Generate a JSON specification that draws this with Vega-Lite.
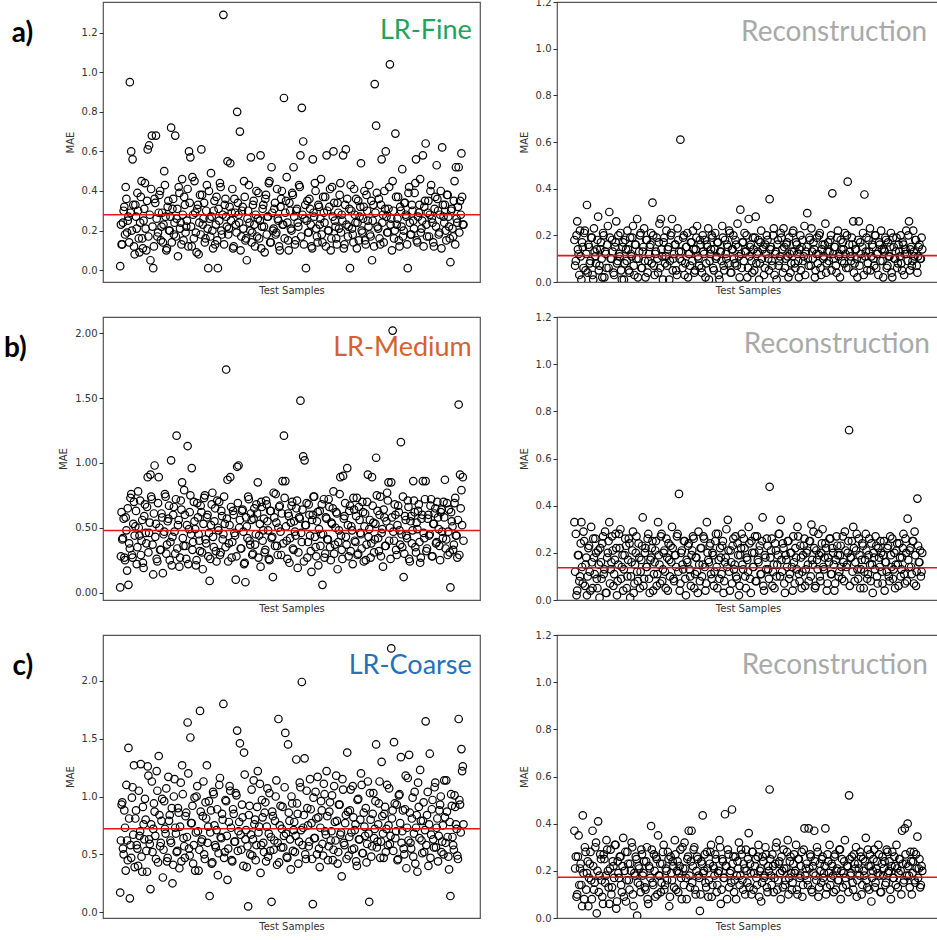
{
"$schema":"https://vega.github.io/schema/vega-lite/v6.json",
"padding":{"left":3,"top":-4,"right":0,"bottom":0},
"background":"white",
"data":{"values":[
{"i":0,"a":0.02,"b":0.18,"c":0.04,"d":0.33,"e":0.17,"f":0.37},
{"i":2,"a":0.13,"b":0.09,"c":0.62,"d":0.28,"e":0.93,"f":0.26},
{"i":4,"a":0.24,"b":0.26,"c":0.42,"d":0.04,"e":0.55,"f":0.10},
{"i":6,"a":0.32,"b":0.12,"c":0.27,"d":0.19,"e":0.88,"f":0.35},
{"i":8,"a":0.42,"b":0.22,"c":0.58,"d":0.10,"e":0.36,"f":0.21},
{"i":10,"a":0.19,"b":0.01,"c":0.17,"d":0.33,"e":0.62,"f":0.14},
{"i":12,"a":0.27,"b":0.15,"c":0.06,"d":0.07,"e":1.42,"f":0.435},
{"i":14,"a":0.95,"b":0.21,"c":0.34,"d":0.25,"e":0.12,"f":0.08},
{"i":16,"a":0.60,"b":0.05,"c":0.76,"d":0.15,"e":0.47,"f":0.28},
{"i":18,"a":0.56,"b":0.33,"c":0.27,"d":0.02,"e":1.08,"f":0.19},
{"i":20,"a":0.12,"b":0.16,"c":0.70,"d":0.22,"e":1.27,"f":0.05},
{"i":22,"a":0.33,"b":0.08,"c":0.51,"d":0.12,"e":0.81,"f":0.23},
{"i":24,"a":0.21,"b":0.19,"c":0.22,"d":0.31,"e":0.58,"f":0.16},
{"i":26,"a":0.30,"b":0.03,"c":0.78,"d":0.05,"e":0.40,"f":0.37},
{"i":28,"a":0.09,"b":0.23,"c":0.44,"d":0.18,"e":0.66,"f":0.12},
{"i":30,"a":0.37,"b":0.11,"c":0.29,"d":0.26,"e":1.28,"f":0.30},
{"i":32,"a":0.16,"b":0.14,"c":0.56,"d":0.09,"e":0.35,"f":0.02},
{"i":34,"a":0.25,"b":0.28,"c":0.19,"d":0.21,"e":0.76,"f":0.41},
{"i":36,"a":0.44,"b":0.07,"c":0.68,"d":0.01,"e":0.98,"f":0.18},
{"i":38,"a":0.10,"b":0.17,"c":0.38,"d":0.16,"e":0.53,"f":0.25},
{"i":40,"a":0.61,"b":0.02,"c":0.89,"d":0.24,"e":1.26,"f":0.09},
{"i":42,"a":0.63,"b":0.20,"c":0.46,"d":0.11,"e":0.63,"f":0.27},
{"i":44,"a":0.05,"b":0.13,"c":0.91,"d":0.29,"e":0.20,"f":0.15},
{"i":46,"a":0.68,"b":0.06,"c":0.72,"d":0.03,"e":1.13,"f":0.33},
{"i":48,"a":0.01,"b":0.24,"c":0.14,"d":0.20,"e":0.72,"f":0.20},
{"i":50,"a":0.36,"b":0.30,"c":0.98,"d":0.33,"e":0.87,"f":0.06},
{"i":52,"a":0.68,"b":0.10,"c":0.53,"d":0.13,"e":0.46,"f":0.29},
{"i":54,"a":0.17,"b":0.18,"c":0.24,"d":0.27,"e":1.05,"f":0.13},
{"i":56,"a":0.29,"b":0.04,"c":0.89,"d":0.06,"e":1.35,"f":0.22},
{"i":58,"a":0.40,"b":0.15,"c":0.33,"d":0.17,"e":0.57,"f":0.31},
{"i":60,"a":0.22,"b":0.26,"c":0.61,"d":0.22,"e":0.79,"f":0.04},
{"i":62,"a":0.14,"b":0.09,"c":0.15,"d":0.08,"e":0.30,"f":0.24},
{"i":64,"a":0.50,"b":0.12,"c":0.47,"d":0.28,"e":0.96,"f":0.17},
{"i":66,"a":0.27,"b":0.21,"c":0.74,"d":0.30,"e":0.68,"f":0.26},
{"i":68,"a":0.11,"b":0.01,"c":0.37,"d":0.14,"e":0.44,"f":0.11},
{"i":70,"a":0.35,"b":0.17,"c":0.57,"d":0.04,"e":1.17,"f":0.34},
{"i":72,"a":0.20,"b":0.08,"c":0.25,"d":0.19,"e":0.84,"f":0.20},
{"i":74,"a":0.72,"b":0.14,"c":1.02,"d":0.23,"e":0.60,"f":0.07},
{"i":76,"a":0.31,"b":0.22,"c":0.43,"d":0.10,"e":0.25,"f":0.28},
{"i":78,"a":0.18,"b":0.05,"c":0.66,"d":0.26,"e":1.00,"f":0.16},
{"i":80,"a":0.68,"b":0.19,"c":0.30,"d":0.01,"e":0.73,"f":0.23},
{"i":82,"a":0.26,"b":0.11,"c":1.21,"d":0.16,"e":0.52,"f":0.32},
{"i":84,"a":0.07,"b":0.24,"c":0.52,"d":0.29,"e":0.90,"f":0.10},
{"i":86,"a":0.39,"b":0.03,"c":0.20,"d":0.07,"e":0.38,"f":0.19},
{"i":88,"a":0.24,"b":0.16,"c":0.71,"d":0.20,"e":1.12,"f":0.26},
{"i":90,"a":0.46,"b":0.27,"c":0.85,"d":0.12,"e":1.27,"f":0.01},
{"i":92,"a":0.15,"b":0.10,"c":0.36,"d":0.24,"e":0.64,"f":0.22},
{"i":94,"a":0.33,"b":0.20,"c":0.60,"d":0.05,"e":0.47,"f":0.14},
{"i":96,"a":0.22,"b":0.06,"c":0.26,"d":0.17,"e":0.86,"f":0.29},
{"i":98,"a":0.41,"b":0.13,"c":1.13,"d":0.35,"e":1.64,"f":0.18},
{"i":100,"a":0.60,"b":0.23,"c":0.49,"d":0.09,"e":0.55,"f":0.24},
{"i":102,"a":0.57,"b":0.02,"c":0.75,"d":0.22,"e":1.51,"f":0.12},
{"i":104,"a":0.12,"b":0.18,"c":0.96,"d":0.14,"e":0.77,"f":0.30},
{"i":106,"a":0.28,"b":0.09,"c":0.39,"d":0.28,"e":0.42,"f":0.06},
{"i":108,"a":0.45,"b":0.15,"c":0.55,"d":0.03,"e":0.99,"f":0.21},
{"i":110,"a":0.19,"b":0.21,"c":0.21,"d":0.18,"e":0.69,"f":0.39},
{"i":112,"a":0.31,"b":0.34,"c":0.69,"d":0.25,"e":1.09,"f":0.15},
{"i":114,"a":0.08,"b":0.07,"c":0.45,"d":0.11,"e":0.36,"f":0.27},
{"i":116,"a":0.38,"b":0.12,"c":0.32,"d":0.21,"e":1.74,"f":0.09},
{"i":118,"a":0.61,"b":0.19,"c":0.62,"d":0.06,"e":0.61,"f":0.25},
{"i":120,"a":0.23,"b":0.04,"c":0.18,"d":0.33,"e":0.83,"f":0.35},
{"i":122,"a":0.34,"b":0.25,"c":0.73,"d":0.15,"e":0.50,"f":0.18},
{"i":124,"a":0.16,"b":0.27,"c":0.41,"d":0.27,"e":0.95,"f":0.11},
{"i":126,"a":0.43,"b":0.11,"c":0.58,"d":0.08,"e":1.27,"f":0.23},
{"i":128,"a":0.01,"b":0.17,"c":0.28,"d":0.20,"e":0.74,"f":0.31},
{"i":130,"a":0.26,"b":0.08,"c":0.09,"d":0.12,"e":0.14,"f":0.14},
{"i":132,"a":0.49,"b":0.22,"c":0.52,"d":0.26,"e":0.88,"f":0.20},
{"i":134,"a":0.20,"b":0.14,"c":0.77,"d":0.04,"e":0.43,"f":0.28},
{"i":136,"a":0.30,"b":0.01,"c":0.35,"d":0.17,"e":1.02,"f":0.05},
{"i":138,"a":0.13,"b":0.20,"c":0.65,"d":0.23,"e":0.58,"f":0.26},
{"i":140,"a":0.37,"b":0.27,"c":0.24,"d":0.31,"e":0.71,"f":0.16},
{"i":142,"a":0.01,"b":0.10,"c":0.50,"d":0.09,"e":0.32,"f":0.22},
{"i":144,"a":0.25,"b":0.16,"c":0.70,"d":0.19,"e":1.10,"f":0.33},
{"i":146,"a":0.42,"b":0.05,"c":0.31,"d":0.14,"e":0.65,"f":0.12},
{"i":148,"a":0.18,"b":0.23,"c":0.59,"d":0.28,"e":0.85,"f":0.24},
{"i":150,"a":1.29,"b":0.13,"c":0.45,"d":0.45,"e":1.80,"f":0.19},
{"i":152,"a":0.33,"b":0.61,"c":0.53,"d":0.07,"e":0.52,"f":0.29},
{"i":154,"a":0.27,"b":0.09,"c":1.72,"d":0.21,"e":0.96,"f":0.08},
{"i":156,"a":0.55,"b":0.19,"c":0.87,"d":0.13,"e":0.28,"f":0.21},
{"i":158,"a":0.21,"b":0.03,"c":0.38,"d":0.25,"e":0.78,"f":0.32},
{"i":160,"a":0.54,"b":0.15,"c":0.89,"d":0.02,"e":1.05,"f":0.17},
{"i":162,"a":0.29,"b":0.21,"c":0.27,"d":0.16,"e":0.45,"f":0.25},
{"i":164,"a":0.11,"b":0.12,"c":0.63,"d":0.24,"e":0.89,"f":0.37},
{"i":166,"a":0.36,"b":0.07,"c":0.46,"d":0.10,"e":0.61,"f":0.13},
{"i":168,"a":0.23,"b":0.17,"c":0.10,"d":0.19,"e":1.03,"f":0.37},
{"i":170,"a":0.80,"b":0.22,"c":0.97,"d":0.27,"e":1.57,"f":0.22},
{"i":172,"a":0.28,"b":0.04,"c":0.98,"d":0.05,"e":0.70,"f":0.30},
{"i":174,"a":0.70,"b":0.14,"c":0.56,"d":0.18,"e":1.46,"f":0.10},
{"i":176,"a":0.17,"b":0.24,"c":0.34,"d":0.12,"e":0.54,"f":0.26},
{"i":178,"a":0.32,"b":0.10,"c":0.64,"d":0.29,"e":0.82,"f":0.18},
{"i":180,"a":0.45,"b":0.18,"c":0.22,"d":0.08,"e":1.38,"f":0.03},
{"i":182,"a":0.15,"b":0.06,"c":0.08,"d":0.22,"e":0.63,"f":0.24},
{"i":184,"a":0.05,"b":0.20,"c":0.51,"d":0.15,"e":0.39,"f":0.435},
{"i":186,"a":0.30,"b":0.12,"c":0.74,"d":0.26,"e":0.05,"f":0.20},
{"i":188,"a":0.24,"b":0.02,"c":0.40,"d":0.04,"e":0.92,"f":0.15},
{"i":190,"a":0.57,"b":0.16,"c":0.61,"d":0.33,"e":0.67,"f":0.28},
{"i":192,"a":0.19,"b":0.23,"c":0.29,"d":0.17,"e":0.49,"f":0.09},
{"i":194,"a":0.35,"b":0.09,"c":0.57,"d":0.23,"e":1.14,"f":0.23},
{"i":196,"a":0.12,"b":0.14,"c":0.37,"d":0.11,"e":0.80,"f":0.31},
{"i":198,"a":0.40,"b":0.19,"c":0.68,"d":0.20,"e":0.58,"f":0.14},
{"i":200,"a":0.26,"b":0.05,"c":0.85,"d":0.06,"e":1.22,"f":0.21},
{"i":202,"a":0.16,"b":0.21,"c":0.44,"d":0.25,"e":0.74,"f":0.27},
{"i":204,"a":0.58,"b":0.11,"c":0.20,"d":0.14,"e":0.34,"f":0.11},
{"i":206,"a":0.22,"b":0.17,"c":0.66,"d":0.28,"e":0.97,"f":0.19},
{"i":208,"a":0.33,"b":0.01,"c":0.48,"d":0.09,"e":0.60,"f":0.33},
{"i":210,"a":0.09,"b":0.13,"c":0.31,"d":0.18,"e":0.86,"f":0.06},
{"i":212,"a":0.38,"b":0.24,"c":0.71,"d":0.23,"e":0.44,"f":0.25},
{"i":214,"a":0.27,"b":0.07,"c":0.55,"d":0.03,"e":1.07,"f":0.17},
{"i":216,"a":0.44,"b":0.18,"c":0.26,"d":0.16,"e":0.68,"f":0.44},
{"i":218,"a":0.14,"b":0.10,"c":0.63,"d":0.30,"e":0.53,"f":0.22},
{"i":220,"a":0.52,"b":0.15,"c":0.42,"d":0.34,"e":0.09,"f":0.29},
{"i":222,"a":0.20,"b":0.22,"c":0.12,"d":0.12,"e":0.83,"f":0.13},
{"i":224,"a":0.31,"b":0.04,"c":0.58,"d":0.21,"e":0.62,"f":0.20},
{"i":226,"a":0.18,"b":0.14,"c":0.76,"d":0.07,"e":1.00,"f":0.46},
{"i":228,"a":0.41,"b":0.20,"c":0.36,"d":0.26,"e":0.41,"f":0.26},
{"i":230,"a":0.25,"b":0.08,"c":0.50,"d":0.15,"e":1.67,"f":0.16},
{"i":232,"a":0.10,"b":0.16,"c":0.67,"d":0.10,"e":0.75,"f":0.08},
{"i":234,"a":0.36,"b":0.25,"c":0.29,"d":0.24,"e":0.56,"f":0.24},
{"i":236,"a":0.23,"b":0.11,"c":0.86,"d":0.02,"e":0.91,"f":0.32},
{"i":238,"a":0.87,"b":0.31,"c":1.21,"d":0.19,"e":0.66,"f":0.18},
{"i":240,"a":0.29,"b":0.06,"c":0.86,"d":0.28,"e":1.55,"f":0.27},
{"i":242,"a":0.47,"b":0.17,"c":0.40,"d":0.13,"e":0.48,"f":0.12},
{"i":244,"a":0.15,"b":0.21,"c":0.61,"d":0.22,"e":1.45,"f":0.21},
{"i":246,"a":0.34,"b":0.13,"c":0.23,"d":0.05,"e":0.79,"f":0.29},
{"i":248,"a":0.21,"b":0.02,"c":0.54,"d":0.17,"e":0.37,"f":0.15},
{"i":250,"a":0.39,"b":0.27,"c":0.70,"d":0.31,"e":0.94,"f":0.36},
{"i":252,"a":0.52,"b":0.15,"c":0.33,"d":0.09,"e":0.71,"f":0.23},
{"i":254,"a":0.13,"b":0.09,"c":0.47,"d":0.25,"e":0.52,"f":0.10},
{"i":256,"a":0.30,"b":0.19,"c":0.65,"d":0.14,"e":1.32,"f":0.28},
{"i":258,"a":0.24,"b":0.05,"c":0.19,"d":0.20,"e":0.85,"f":0.19},
{"i":260,"a":0.43,"b":0.28,"c":0.58,"d":0.08,"e":0.61,"f":0.25},
{"i":262,"a":0.58,"b":0.12,"c":1.48,"d":0.27,"e":1.08,"f":0.14},
{"i":264,"a":0.82,"b":0.18,"c":0.39,"d":0.16,"e":1.99,"f":0.31},
{"i":266,"a":0.65,"b":0.08,"c":1.05,"d":0.23,"e":0.73,"f":0.20},
{"i":268,"a":0.26,"b":0.22,"c":1.02,"d":0.11,"e":1.33,"f":0.07},
{"i":270,"a":0.01,"b":0.14,"c":0.52,"d":0.35,"e":0.46,"f":0.26},
{"i":272,"a":0.35,"b":0.03,"c":0.27,"d":0.04,"e":0.90,"f":0.17},
{"i":274,"a":0.19,"b":0.16,"c":0.68,"d":0.18,"e":0.57,"f":0.30},
{"i":276,"a":0.31,"b":0.20,"c":0.44,"d":0.26,"e":1.15,"f":0.13},
{"i":278,"a":0.12,"b":0.10,"c":0.16,"d":0.13,"e":0.77,"f":0.22},
{"i":280,"a":0.56,"b":0.355,"c":0.60,"d":0.48,"e":0.07,"f":0.545},
{"i":282,"a":0.27,"b":0.15,"c":0.74,"d":0.21,"e":0.64,"f":0.18},
{"i":284,"a":0.40,"b":0.07,"c":0.35,"d":0.06,"e":1.04,"f":0.27},
{"i":286,"a":0.17,"b":0.23,"c":0.55,"d":0.15,"e":0.50,"f":0.11},
{"i":288,"a":0.33,"b":0.12,"c":0.21,"d":0.24,"e":0.82,"f":0.23},
{"i":290,"a":0.23,"b":0.01,"c":0.63,"d":0.10,"e":0.39,"f":0.32},
{"i":292,"a":0.46,"b":0.18,"c":0.45,"d":0.19,"e":0.96,"f":0.16},
{"i":294,"a":0.14,"b":0.09,"c":0.06,"d":0.28,"e":0.59,"f":0.24},
{"i":296,"a":0.29,"b":0.21,"c":0.72,"d":0.34,"e":1.11,"f":0.08},
{"i":298,"a":0.37,"b":0.14,"c":0.30,"d":0.12,"e":0.70,"f":0.20},
{"i":300,"a":0.58,"b":0.23,"c":0.57,"d":0.22,"e":1.22,"f":0.29},
{"i":302,"a":0.20,"b":0.06,"c":0.41,"d":0.03,"e":0.45,"f":0.14},
{"i":304,"a":0.32,"b":0.16,"c":0.66,"d":0.17,"e":0.87,"f":0.21},
{"i":306,"a":0.10,"b":0.11,"c":0.25,"d":0.25,"e":0.62,"f":0.33},
{"i":308,"a":0.42,"b":0.19,"c":0.53,"d":0.09,"e":1.01,"f":0.17},
{"i":310,"a":0.60,"b":0.04,"c":0.78,"d":0.20,"e":0.54,"f":0.26},
{"i":312,"a":0.25,"b":0.13,"c":0.37,"d":0.14,"e":0.78,"f":0.12},
{"i":314,"a":0.16,"b":0.22,"c":0.62,"d":0.27,"e":1.18,"f":0.23},
{"i":316,"a":0.34,"b":0.08,"c":0.18,"d":0.07,"e":0.42,"f":0.19},
{"i":318,"a":0.21,"b":0.17,"c":0.48,"d":0.18,"e":0.93,"f":0.31},
{"i":320,"a":0.44,"b":0.12,"c":0.89,"d":0.31,"e":0.67,"f":0.10},
{"i":322,"a":0.28,"b":0.02,"c":0.33,"d":0.11,"e":0.31,"f":0.25},
{"i":324,"a":0.58,"b":0.20,"c":0.90,"d":0.23,"e":1.06,"f":0.18},
{"i":326,"a":0.13,"b":0.15,"c":0.59,"d":0.05,"e":0.58,"f":0.28},
{"i":328,"a":0.61,"b":0.09,"c":0.43,"d":0.19,"e":0.84,"f":0.14},
{"i":330,"a":0.36,"b":0.24,"c":0.96,"d":0.26,"e":1.38,"f":0.38},
{"i":332,"a":0.22,"b":0.13,"c":0.28,"d":0.13,"e":0.49,"f":0.21},
{"i":334,"a":0.01,"b":0.295,"c":0.67,"d":0.21,"e":0.88,"f":0.16},
{"i":336,"a":0.30,"b":0.07,"c":0.51,"d":0.08,"e":0.69,"f":0.38},
{"i":338,"a":0.18,"b":0.18,"c":0.22,"d":0.25,"e":1.09,"f":0.27},
{"i":340,"a":0.41,"b":0.23,"c":0.64,"d":0.32,"e":0.55,"f":0.12},
{"i":342,"a":0.24,"b":0.10,"c":0.39,"d":0.15,"e":0.76,"f":0.22},
{"i":344,"a":0.11,"b":0.14,"c":0.73,"d":0.22,"e":0.40,"f":0.37},
{"i":346,"a":0.35,"b":0.05,"c":0.30,"d":0.06,"e":0.98,"f":0.18},
{"i":348,"a":0.27,"b":0.19,"c":0.56,"d":0.17,"e":0.63,"f":0.30},
{"i":350,"a":0.54,"b":0.12,"c":0.45,"d":0.28,"e":1.20,"f":0.09},
{"i":352,"a":0.19,"b":0.21,"c":0.70,"d":0.10,"e":0.51,"f":0.23},
{"i":354,"a":0.32,"b":0.03,"c":0.24,"d":0.20,"e":0.86,"f":0.15},
{"i":356,"a":0.15,"b":0.16,"c":0.61,"d":0.30,"e":0.66,"f":0.26},
{"i":358,"a":0.38,"b":0.11,"c":0.37,"d":0.13,"e":0.43,"f":0.19},
{"i":360,"a":0.25,"b":0.25,"c":0.91,"d":0.24,"e":1.13,"f":0.38},
{"i":362,"a":0.43,"b":0.08,"c":0.49,"d":0.04,"e":0.09,"f":0.13},
{"i":364,"a":0.17,"b":0.17,"c":0.27,"d":0.18,"e":0.80,"f":0.24},
{"i":366,"a":0.05,"b":0.13,"c":0.89,"d":0.26,"e":0.57,"f":0.31},
{"i":368,"a":0.33,"b":0.20,"c":0.54,"d":0.11,"e":1.03,"f":0.17},
{"i":370,"a":0.94,"b":0.38,"c":0.41,"d":0.22,"e":0.72,"f":0.22},
{"i":372,"a":0.73,"b":0.10,"c":1.04,"d":0.15,"e":1.45,"f":0.11},
{"i":374,"a":0.22,"b":0.15,"c":0.63,"d":0.07,"e":0.61,"f":0.27},
{"i":376,"a":0.36,"b":0.04,"c":0.32,"d":0.27,"e":0.94,"f":0.20},
{"i":378,"a":0.13,"b":0.22,"c":0.74,"d":0.19,"e":0.47,"f":0.16},
{"i":380,"a":0.56,"b":0.12,"c":0.46,"d":0.12,"e":1.30,"f":0.29},
{"i":382,"a":0.28,"b":0.18,"c":0.20,"d":0.23,"e":0.68,"f":0.08},
{"i":384,"a":0.40,"b":0.09,"c":0.58,"d":0.09,"e":0.85,"f":0.25},
{"i":386,"a":0.60,"b":0.14,"c":0.36,"d":0.16,"e":0.52,"f":0.19},
{"i":388,"a":0.19,"b":0.21,"c":0.77,"d":0.29,"e":1.10,"f":0.33},
{"i":390,"a":0.31,"b":0.06,"c":0.85,"d":0.14,"e":0.75,"f":0.14},
{"i":392,"a":1.04,"b":0.43,"c":0.50,"d":0.20,"e":0.59,"f":0.22},
{"i":394,"a":0.26,"b":0.16,"c":0.85,"d":0.72,"e":2.28,"f":0.52},
{"i":396,"a":0.45,"b":0.11,"c":2.02,"d":0.18,"e":0.88,"f":0.18},
{"i":398,"a":0.16,"b":0.19,"c":0.40,"d":0.25,"e":1.47,"f":0.26},
{"i":400,"a":0.69,"b":0.26,"c":0.60,"d":0.31,"e":0.64,"f":0.12},
{"i":402,"a":0.23,"b":0.08,"c":0.29,"d":0.08,"e":0.93,"f":0.23},
{"i":404,"a":0.37,"b":0.14,"c":0.67,"d":0.21,"e":0.46,"f":0.30},
{"i":406,"a":0.12,"b":0.02,"c":0.48,"d":0.13,"e":1.02,"f":0.16},
{"i":408,"a":0.30,"b":0.26,"c":1.16,"d":0.26,"e":1.34,"f":0.21},
{"i":410,"a":0.51,"b":0.17,"c":0.35,"d":0.05,"e":0.70,"f":0.28},
{"i":412,"a":0.20,"b":0.10,"c":0.12,"d":0.17,"e":0.55,"f":0.10},
{"i":414,"a":0.34,"b":0.21,"c":0.59,"d":0.23,"e":0.89,"f":0.25},
{"i":416,"a":0.27,"b":0.375,"c":0.44,"d":0.12,"e":0.38,"f":0.18},
{"i":418,"a":0.01,"b":0.13,"c":0.71,"d":0.28,"e":1.16,"f":0.34},
{"i":420,"a":0.42,"b":0.05,"c":0.26,"d":0.09,"e":1.36,"f":0.13},
{"i":422,"a":0.18,"b":0.18,"c":0.55,"d":0.19,"e":0.60,"f":0.22},
{"i":424,"a":0.33,"b":0.23,"c":0.38,"d":0.15,"e":0.81,"f":0.27},
{"i":426,"a":0.25,"b":0.11,"c":0.86,"d":0.24,"e":0.48,"f":0.07},
{"i":428,"a":0.39,"b":0.15,"c":0.62,"d":0.03,"e":1.04,"f":0.20},
{"i":430,"a":0.56,"b":0.07,"c":0.31,"d":0.18,"e":0.73,"f":0.29},
{"i":432,"a":0.14,"b":0.20,"c":0.49,"d":0.27,"e":0.35,"f":0.15},
{"i":434,"a":0.29,"b":0.12,"c":0.68,"d":0.10,"e":0.91,"f":0.24},
{"i":436,"a":0.46,"b":0.03,"c":0.23,"d":0.22,"e":1.23,"f":0.31},
{"i":438,"a":0.21,"b":0.16,"c":0.57,"d":0.14,"e":0.62,"f":0.18},
{"i":440,"a":0.58,"b":0.22,"c":0.86,"d":0.20,"e":0.79,"f":0.11},
{"i":442,"a":0.32,"b":0.09,"c":0.42,"d":0.07,"e":0.52,"f":0.26},
{"i":444,"a":0.64,"b":0.14,"c":0.86,"d":0.25,"e":1.65,"f":0.21},
{"i":446,"a":0.17,"b":0.19,"c":0.34,"d":0.16,"e":0.84,"f":0.14},
{"i":448,"a":0.35,"b":0.06,"c":0.60,"d":0.12,"e":0.40,"f":0.29},
{"i":450,"a":0.28,"b":0.17,"c":0.45,"d":0.23,"e":1.37,"f":0.19},
{"i":452,"a":0.43,"b":0.11,"c":0.72,"d":0.08,"e":0.67,"f":0.24},
{"i":454,"a":0.24,"b":0.21,"c":0.28,"d":0.19,"e":0.97,"f":0.08},
{"i":456,"a":0.12,"b":0.02,"c":0.53,"d":0.26,"e":0.56,"f":0.28},
{"i":458,"a":0.37,"b":0.15,"c":0.65,"d":0.13,"e":1.12,"f":0.17},
{"i":460,"a":0.53,"b":0.10,"c":0.39,"d":0.05,"e":0.73,"f":0.22},
{"i":462,"a":0.30,"b":0.19,"c":0.58,"d":0.21,"e":0.44,"f":0.31},
{"i":464,"a":0.19,"b":0.08,"c":0.36,"d":0.15,"e":0.88,"f":0.13},
{"i":466,"a":0.40,"b":0.13,"c":0.62,"d":0.24,"e":1.00,"f":0.25},
{"i":468,"a":0.62,"b":0.20,"c":0.47,"d":0.10,"e":0.61,"f":0.20},
{"i":470,"a":0.27,"b":0.05,"c":0.70,"d":0.18,"e":0.50,"f":0.37},
{"i":472,"a":0.33,"b":0.16,"c":0.87,"d":0.28,"e":0.82,"f":0.15},
{"i":474,"a":0.15,"b":0.12,"c":0.41,"d":0.07,"e":1.14,"f":0.38},
{"i":476,"a":0.38,"b":0.22,"c":0.29,"d":0.20,"e":0.65,"f":0.23},
{"i":478,"a":0.22,"b":0.09,"c":0.64,"d":0.345,"e":0.37,"f":0.40},
{"i":480,"a":0.04,"b":0.26,"c":0.04,"d":0.14,"e":0.14,"f":0.18},
{"i":482,"a":0.31,"b":0.14,"c":0.55,"d":0.22,"e":0.92,"f":0.28},
{"i":484,"a":0.17,"b":0.07,"c":0.33,"d":0.11,"e":0.58,"f":0.10},
{"i":486,"a":0.45,"b":0.22,"c":0.69,"d":0.25,"e":1.01,"f":0.24},
{"i":488,"a":0.52,"b":0.11,"c":0.44,"d":0.29,"e":0.76,"f":0.16},
{"i":490,"a":0.24,"b":0.18,"c":0.27,"d":0.06,"e":0.49,"f":0.27},
{"i":492,"a":0.52,"b":0.04,"c":1.45,"d":0.43,"e":1.67,"f":0.345},
{"i":494,"a":0.35,"b":0.15,"c":0.91,"d":0.16,"e":0.93,"f":0.21},
{"i":496,"a":0.59,"b":0.10,"c":0.79,"d":0.21,"e":1.41,"f":0.13},
{"i":498,"a":0.23,"b":0.19,"c":0.89,"d":0.12,"e":1.26,"f":0.22},
{"i":1,"a":0.23,"b":0.07,"c":0.28,"d":0.12,"e":0.62,"f":0.21},
{"i":3,"a":0.13,"b":0.20,"c":0.41,"d":0.02,"e":0.95,"f":0.09},
{"i":5,"a":0.30,"b":0.14,"c":0.57,"d":0.19,"e":0.50,"f":0.26},
{"i":7,"a":0.18,"b":0.03,"c":0.25,"d":0.08,"e":0.73,"f":0.14},
{"i":9,"a":0.36,"b":0.11,"c":0.48,"d":0.24,"e":1.10,"f":0.23},
{"i":11,"a":0.25,"b":0.17,"c":0.65,"d":0.14,"e":0.45,"f":0.05},
{"i":13,"a":0.14,"b":0.06,"c":0.38,"d":0.29,"e":0.81,"f":0.19},
{"i":15,"a":0.29,"b":0.22,"c":0.73,"d":0.06,"e":0.58,"f":0.30},
{"i":17,"a":0.20,"b":0.12,"c":0.29,"d":0.18,"e":0.99,"f":0.12},
{"i":19,"a":0.33,"b":0.04,"c":0.53,"d":0.10,"e":0.67,"f":0.24},
{"i":21,"a":0.08,"b":0.15,"c":0.44,"d":0.23,"e":0.39,"f":0.17},
{"i":23,"a":0.27,"b":0.09,"c":0.63,"d":0.04,"e":0.88,"f":0.28},
{"i":25,"a":0.39,"b":0.19,"c":0.35,"d":0.16,"e":0.55,"f":0.08},
{"i":27,"a":0.16,"b":0.01,"c":0.50,"d":0.26,"e":1.05,"f":0.22},
{"i":29,"a":0.24,"b":0.13,"c":0.71,"d":0.11,"e":0.70,"f":0.15},
{"i":31,"a":0.45,"b":0.08,"c":0.40,"d":0.20,"e":0.48,"f":0.32},
{"i":33,"a":0.11,"b":0.18,"c":0.23,"d":0.05,"e":0.91,"f":0.20},
{"i":35,"a":0.31,"b":0.05,"c":0.59,"d":0.15,"e":0.63,"f":0.11},
{"i":37,"a":0.21,"b":0.14,"c":0.46,"d":0.22,"e":0.80,"f":0.27},
{"i":39,"a":0.35,"b":0.10,"c":0.66,"d":0.09,"e":0.35,"f":0.16},
{"i":41,"a":0.17,"b":0.21,"c":0.31,"d":0.27,"e":1.18,"f":0.06},
{"i":43,"a":0.28,"b":0.02,"c":0.54,"d":0.13,"e":0.59,"f":0.25},
{"i":45,"a":0.41,"b":0.12,"c":0.74,"d":0.03,"e":0.76,"f":0.18},
{"i":47,"a":0.22,"b":0.16,"c":0.37,"d":0.18,"e":0.52,"f":0.29},
{"i":49,"a":0.12,"b":0.06,"c":0.61,"d":0.25,"e":0.94,"f":0.13},
{"i":51,"a":0.34,"b":0.19,"c":0.43,"d":0.07,"e":0.66,"f":0.21},
{"i":53,"a":0.26,"b":0.10,"c":0.26,"d":0.16,"e":1.22,"f":0.10},
{"i":55,"a":0.19,"b":0.13,"c":0.69,"d":0.21,"e":0.43,"f":0.24},
{"i":57,"a":0.38,"b":0.03,"c":0.50,"d":0.11,"e":0.84,"f":0.17},
{"i":59,"a":0.15,"b":0.17,"c":0.33,"d":0.28,"e":0.60,"f":0.31},
{"i":61,"a":0.29,"b":0.08,"c":0.58,"d":0.02,"e":0.98,"f":0.07},
{"i":63,"a":0.23,"b":0.20,"c":0.45,"d":0.15,"e":0.54,"f":0.19},
{"i":65,"a":0.43,"b":0.11,"c":0.76,"d":0.22,"e":0.72,"f":0.26},
{"i":67,"a":0.10,"b":0.05,"c":0.30,"d":0.09,"e":1.07,"f":0.14},
{"i":69,"a":0.32,"b":0.15,"c":0.55,"d":0.19,"e":0.47,"f":0.22},
{"i":71,"a":0.20,"b":0.01,"c":0.67,"d":0.13,"e":0.79,"f":0.09},
{"i":73,"a":0.27,"b":0.18,"c":0.39,"d":0.26,"e":0.62,"f":0.28},
{"i":75,"a":0.14,"b":0.09,"c":0.21,"d":0.05,"e":0.90,"f":0.16},
{"i":77,"a":0.36,"b":0.14,"c":0.60,"d":0.17,"e":0.41,"f":0.23},
{"i":79,"a":0.24,"b":0.04,"c":0.47,"d":0.24,"e":1.15,"f":0.12},
{"i":81,"a":0.17,"b":0.12,"c":0.72,"d":0.10,"e":0.68,"f":0.20},
{"i":83,"a":0.31,"b":0.19,"c":0.34,"d":0.21,"e":0.53,"f":0.30},
{"i":85,"a":0.42,"b":0.07,"c":0.56,"d":0.03,"e":0.86,"f":0.05},
{"i":87,"a":0.21,"b":0.16,"c":0.27,"d":0.15,"e":0.74,"f":0.18},
{"i":89,"a":0.13,"b":0.10,"c":0.64,"d":0.27,"e":0.44,"f":0.25},
{"i":91,"a":0.28,"b":0.02,"c":0.42,"d":0.08,"e":1.02,"f":0.15},
{"i":93,"a":0.37,"b":0.13,"c":0.79,"d":0.18,"e":0.57,"f":0.21},
{"i":95,"a":0.19,"b":0.21,"c":0.36,"d":0.12,"e":0.83,"f":0.11},
{"i":97,"a":0.25,"b":0.06,"c":0.52,"d":0.23,"e":0.65,"f":0.27},
{"i":99,"a":0.12,"b":0.15,"c":0.22,"d":0.06,"e":1.20,"f":0.19},
{"i":101,"a":0.34,"b":0.09,"c":0.62,"d":0.20,"e":0.49,"f":0.13},
{"i":103,"a":0.22,"b":0.18,"c":0.45,"d":0.14,"e":0.77,"f":0.24},
{"i":105,"a":0.47,"b":0.04,"c":0.33,"d":0.26,"e":0.92,"f":0.08},
{"i":107,"a":0.16,"b":0.12,"c":0.70,"d":0.09,"e":0.58,"f":0.22},
{"i":109,"a":0.29,"b":0.16,"c":0.49,"d":0.17,"e":0.36,"f":0.17},
{"i":111,"a":0.09,"b":0.08,"c":0.25,"d":0.22,"e":1.00,"f":0.29},
{"i":113,"a":0.33,"b":0.20,"c":0.58,"d":0.04,"e":0.70,"f":0.14},
{"i":115,"a":0.24,"b":0.03,"c":0.40,"d":0.16,"e":0.54,"f":0.20},
{"i":117,"a":0.18,"b":0.13,"c":0.67,"d":0.25,"e":0.87,"f":0.26},
{"i":119,"a":0.38,"b":0.10,"c":0.31,"d":0.11,"e":0.63,"f":0.10},
{"i":121,"a":0.26,"b":0.17,"c":0.53,"d":0.19,"e":1.13,"f":0.18},
{"i":123,"a":0.14,"b":0.06,"c":0.75,"d":0.07,"e":0.46,"f":0.23},
{"i":125,"a":0.30,"b":0.14,"c":0.38,"d":0.28,"e":0.81,"f":0.15},
{"i":127,"a":0.21,"b":0.01,"c":0.60,"d":0.13,"e":0.60,"f":0.28},
{"i":129,"a":0.40,"b":0.19,"c":0.46,"d":0.21,"e":0.96,"f":0.12},
{"i":131,"a":0.17,"b":0.11,"c":0.26,"d":0.05,"e":0.69,"f":0.21},
{"i":133,"a":0.27,"b":0.07,"c":0.68,"d":0.18,"e":0.42,"f":0.16},
{"i":135,"a":0.11,"b":0.15,"c":0.43,"d":0.24,"e":1.04,"f":0.25},
{"i":137,"a":0.35,"b":0.09,"c":0.55,"d":0.10,"e":0.75,"f":0.09},
{"i":139,"a":0.23,"b":0.21,"c":0.32,"d":0.16,"e":0.56,"f":0.19},
{"i":141,"a":0.15,"b":0.05,"c":0.71,"d":0.22,"e":0.89,"f":0.24},
{"i":143,"a":0.31,"b":0.12,"c":0.48,"d":0.08,"e":0.51,"f":0.13},
{"i":145,"a":0.44,"b":0.16,"c":0.29,"d":0.19,"e":1.16,"f":0.27},
{"i":147,"a":0.20,"b":0.03,"c":0.63,"d":0.27,"e":0.64,"f":0.20},
{"i":149,"a":0.28,"b":0.18,"c":0.41,"d":0.12,"e":0.80,"f":0.11},
{"i":151,"a":0.13,"b":0.10,"c":0.74,"d":0.04,"e":0.47,"f":0.22},
{"i":153,"a":0.36,"b":0.13,"c":0.35,"d":0.20,"e":0.97,"f":0.17},
{"i":155,"a":0.22,"b":0.06,"c":0.57,"d":0.15,"e":0.66,"f":0.30},
{"i":157,"a":0.18,"b":0.20,"c":0.24,"d":0.25,"e":0.55,"f":0.14},
{"i":159,"a":0.32,"b":0.08,"c":0.52,"d":0.09,"e":1.09,"f":0.21},
{"i":161,"a":0.25,"b":0.15,"c":0.66,"d":0.17,"e":0.73,"f":0.08},
{"i":163,"a":0.41,"b":0.02,"c":0.39,"d":0.23,"e":0.44,"f":0.26},
{"i":165,"a":0.12,"b":0.12,"c":0.60,"d":0.13,"e":0.85,"f":0.18},
{"i":167,"a":0.29,"b":0.17,"c":0.44,"d":0.06,"e":0.61,"f":0.24},
{"i":169,"a":0.19,"b":0.09,"c":0.28,"d":0.21,"e":1.01,"f":0.15},
{"i":171,"a":0.34,"b":0.14,"c":0.69,"d":0.26,"e":0.53,"f":0.29},
{"i":173,"a":0.24,"b":0.05,"c":0.50,"d":0.11,"e":0.78,"f":0.12},
{"i":175,"a":0.10,"b":0.19,"c":0.34,"d":0.18,"e":0.67,"f":0.20},
{"i":177,"a":0.30,"b":0.11,"c":0.63,"d":0.03,"e":0.93,"f":0.25},
{"i":179,"a":0.21,"b":0.07,"c":0.47,"d":0.15,"e":0.40,"f":0.17},
{"i":181,"a":0.37,"b":0.16,"c":0.23,"d":0.22,"e":1.19,"f":0.10},
{"i":183,"a":0.16,"b":0.04,"c":0.58,"d":0.10,"e":0.71,"f":0.23},
{"i":185,"a":0.26,"b":0.13,"c":0.42,"d":0.27,"e":0.57,"f":0.19},
{"i":187,"a":0.43,"b":0.18,"c":0.72,"d":0.14,"e":0.84,"f":0.27},
{"i":189,"a":0.20,"b":0.08,"c":0.37,"d":0.07,"e":0.50,"f":0.13},
{"i":191,"a":0.14,"b":0.15,"c":0.56,"d":0.20,"e":1.06,"f":0.21},
{"i":193,"a":0.33,"b":0.01,"c":0.30,"d":0.16,"e":0.63,"f":0.16},
{"i":195,"a":0.23,"b":0.12,"c":0.65,"d":0.24,"e":0.76,"f":0.28},
{"i":197,"a":0.28,"b":0.20,"c":0.45,"d":0.09,"e":0.45,"f":0.09},
{"i":199,"a":0.17,"b":0.06,"c":0.61,"d":0.19,"e":0.91,"f":0.22},
{"i":201,"a":0.39,"b":0.14,"c":0.27,"d":0.12,"e":0.69,"f":0.18},
{"i":203,"a":0.25,"b":0.10,"c":0.53,"d":0.28,"e":1.11,"f":0.25},
{"i":205,"a":0.11,"b":0.17,"c":0.70,"d":0.05,"e":0.58,"f":0.14},
{"i":207,"a":0.31,"b":0.03,"c":0.40,"d":0.17,"e":0.82,"f":0.20},
{"i":209,"a":0.22,"b":0.13,"c":0.57,"d":0.22,"e":0.52,"f":0.30},
{"i":211,"a":0.36,"b":0.09,"c":0.33,"d":0.11,"e":0.95,"f":0.12},
{"i":213,"a":0.18,"b":0.19,"c":0.68,"d":0.25,"e":0.74,"f":0.24},
{"i":215,"a":0.27,"b":0.05,"c":0.48,"d":0.08,"e":0.48,"f":0.17},
{"i":217,"a":0.45,"b":0.12,"c":0.25,"d":0.18,"e":1.03,"f":0.22},
{"i":219,"a":0.14,"b":0.16,"c":0.63,"d":0.14,"e":0.65,"f":0.08},
{"i":221,"a":0.29,"b":0.08,"c":0.43,"d":0.21,"e":0.87,"f":0.27},
{"i":223,"a":0.21,"b":0.21,"c":0.77,"d":0.04,"e":0.54,"f":0.19},
{"i":225,"a":0.34,"b":0.04,"c":0.36,"d":0.16,"e":0.79,"f":0.15},
{"i":227,"a":0.19,"b":0.14,"c":0.54,"d":0.23,"e":1.14,"f":0.23},
{"i":229,"a":0.26,"b":0.10,"c":0.29,"d":0.13,"e":0.60,"f":0.11},
{"i":231,"a":0.12,"b":0.18,"c":0.66,"d":0.27,"e":0.43,"f":0.26},
{"i":233,"a":0.32,"b":0.07,"c":0.47,"d":0.09,"e":0.92,"f":0.18},
{"i":235,"a":0.40,"b":0.15,"c":0.61,"d":0.19,"e":0.72,"f":0.21},
{"i":237,"a":0.23,"b":0.02,"c":0.38,"d":0.06,"e":0.56,"f":0.14},
{"i":239,"a":0.16,"b":0.12,"c":0.73,"d":0.22,"e":1.08,"f":0.29},
{"i":241,"a":0.35,"b":0.17,"c":0.51,"d":0.15,"e":0.68,"f":0.16},
{"i":243,"a":0.24,"b":0.09,"c":0.26,"d":0.26,"e":0.47,"f":0.23},
{"i":245,"a":0.10,"b":0.13,"c":0.59,"d":0.10,"e":0.86,"f":0.10},
{"i":247,"a":0.30,"b":0.20,"c":0.42,"d":0.18,"e":0.63,"f":0.20},
{"i":249,"a":0.20,"b":0.06,"c":0.67,"d":0.12,"e":1.00,"f":0.25},
{"i":251,"a":0.38,"b":0.11,"c":0.34,"d":0.24,"e":0.53,"f":0.13},
{"i":253,"a":0.27,"b":0.16,"c":0.55,"d":0.03,"e":0.78,"f":0.19},
{"i":255,"a":0.15,"b":0.04,"c":0.44,"d":0.20,"e":0.66,"f":0.28},
{"i":257,"a":0.31,"b":0.14,"c":0.71,"d":0.14,"e":0.94,"f":0.12},
{"i":259,"a":0.22,"b":0.19,"c":0.31,"d":0.27,"e":0.42,"f":0.22},
{"i":261,"a":0.42,"b":0.08,"c":0.57,"d":0.08,"e":1.12,"f":0.17},
{"i":263,"a":0.17,"b":0.13,"c":0.46,"d":0.17,"e":0.71,"f":0.26},
{"i":265,"a":0.28,"b":0.01,"c":0.64,"d":0.21,"e":0.58,"f":0.09},
{"i":267,"a":0.13,"b":0.17,"c":0.24,"d":0.11,"e":0.84,"f":0.21},
{"i":269,"a":0.33,"b":0.10,"c":0.52,"d":0.25,"e":0.50,"f":0.15},
{"i":271,"a":0.25,"b":0.15,"c":0.69,"d":0.06,"e":1.05,"f":0.24},
{"i":273,"a":0.19,"b":0.06,"c":0.39,"d":0.19,"e":0.75,"f":0.18},
{"i":275,"a":0.36,"b":0.12,"c":0.60,"d":0.13,"e":0.61,"f":0.27},
{"i":277,"a":0.23,"b":0.18,"c":0.32,"d":0.23,"e":0.89,"f":0.11},
{"i":279,"a":0.11,"b":0.05,"c":0.56,"d":0.09,"e":0.46,"f":0.20},
{"i":281,"a":0.29,"b":0.14,"c":0.74,"d":0.18,"e":0.99,"f":0.25},
{"i":283,"a":0.44,"b":0.09,"c":0.43,"d":0.26,"e":0.64,"f":0.14},
{"i":285,"a":0.21,"b":0.20,"c":0.28,"d":0.12,"e":0.81,"f":0.22},
{"i":287,"a":0.14,"b":0.03,"c":0.62,"d":0.05,"e":1.17,"f":0.17},
{"i":289,"a":0.32,"b":0.13,"c":0.49,"d":0.21,"e":0.55,"f":0.30},
{"i":291,"a":0.26,"b":0.16,"c":0.36,"d":0.15,"e":0.73,"f":0.12},
{"i":293,"a":0.18,"b":0.07,"c":0.68,"d":0.28,"e":0.88,"f":0.23},
{"i":295,"a":0.37,"b":0.11,"c":0.45,"d":0.10,"e":0.49,"f":0.19},
{"i":297,"a":0.24,"b":0.19,"c":0.27,"d":0.17,"e":1.02,"f":0.26},
{"i":299,"a":0.12,"b":0.04,"c":0.58,"d":0.24,"e":0.67,"f":0.13},
{"i":301,"a":0.30,"b":0.15,"c":0.41,"d":0.07,"e":0.83,"f":0.21},
{"i":303,"a":0.20,"b":0.10,"c":0.72,"d":0.19,"e":0.57,"f":0.16},
{"i":305,"a":0.41,"b":0.17,"c":0.35,"d":0.14,"e":0.95,"f":0.28},
{"i":307,"a":0.16,"b":0.02,"c":0.54,"d":0.25,"e":0.70,"f":0.10},
{"i":309,"a":0.27,"b":0.12,"c":0.65,"d":0.11,"e":0.45,"f":0.24},
{"i":311,"a":0.34,"b":0.08,"c":0.30,"d":0.20,"e":1.09,"f":0.19},
{"i":313,"a":0.22,"b":0.21,"c":0.50,"d":0.04,"e":0.62,"f":0.15},
{"i":315,"a":0.13,"b":0.13,"c":0.61,"d":0.16,"e":0.79,"f":0.27},
{"i":317,"a":0.29,"b":0.06,"c":0.39,"d":0.22,"e":0.52,"f":0.20},
{"i":319,"a":0.38,"b":0.16,"c":0.76,"d":0.13,"e":0.93,"f":0.12},
{"i":321,"a":0.19,"b":0.09,"c":0.44,"d":0.27,"e":0.69,"f":0.25},
{"i":323,"a":0.25,"b":0.14,"c":0.26,"d":0.08,"e":1.15,"f":0.17},
{"i":325,"a":0.11,"b":0.05,"c":0.57,"d":0.18,"e":0.60,"f":0.22},
{"i":327,"a":0.33,"b":0.18,"c":0.69,"d":0.12,"e":0.77,"f":0.09},
{"i":329,"a":0.23,"b":0.11,"c":0.37,"d":0.23,"e":0.46,"f":0.29},
{"i":331,"a":0.17,"b":0.03,"c":0.52,"d":0.06,"e":0.87,"f":0.18},
{"i":333,"a":0.31,"b":0.15,"c":0.63,"d":0.20,"e":0.65,"f":0.23},
{"i":335,"a":0.43,"b":0.10,"c":0.32,"d":0.15,"e":1.06,"f":0.14},
{"i":337,"a":0.21,"b":0.19,"c":0.48,"d":0.25,"e":0.54,"f":0.21},
{"i":339,"a":0.14,"b":0.07,"c":0.73,"d":0.10,"e":0.82,"f":0.26},
{"i":341,"a":0.28,"b":0.13,"c":0.40,"d":0.17,"e":0.71,"f":0.11},
{"i":343,"a":0.36,"b":0.17,"c":0.59,"d":0.29,"e":0.44,"f":0.19},
{"i":345,"a":0.24,"b":0.02,"c":0.29,"d":0.05,"e":0.97,"f":0.24},
{"i":347,"a":0.15,"b":0.12,"c":0.66,"d":0.21,"e":0.63,"f":0.16},
{"i":349,"a":0.32,"b":0.08,"c":0.46,"d":0.13,"e":0.80,"f":0.28},
{"i":351,"a":0.20,"b":0.20,"c":0.34,"d":0.19,"e":1.10,"f":0.13},
{"i":353,"a":0.26,"b":0.06,"c":0.62,"d":0.08,"e":0.51,"f":0.20},
{"i":355,"a":0.40,"b":0.14,"c":0.51,"d":0.24,"e":0.74,"f":0.25},
{"i":357,"a":0.13,"b":0.10,"c":0.25,"d":0.14,"e":0.90,"f":0.17},
{"i":359,"a":0.30,"b":0.16,"c":0.70,"d":0.18,"e":0.59,"f":0.22},
{"i":361,"a":0.22,"b":0.04,"c":0.43,"d":0.22,"e":0.68,"f":0.10},
{"i":363,"a":0.18,"b":0.13,"c":0.56,"d":0.07,"e":1.03,"f":0.27},
{"i":365,"a":0.35,"b":0.09,"c":0.38,"d":0.16,"e":0.48,"f":0.19},
{"i":367,"a":0.25,"b":0.18,"c":0.67,"d":0.26,"e":0.85,"f":0.14},
{"i":369,"a":0.12,"b":0.05,"c":0.31,"d":0.11,"e":0.64,"f":0.23},
{"i":371,"a":0.29,"b":0.12,"c":0.53,"d":0.20,"e":0.96,"f":0.18},
{"i":373,"a":0.39,"b":0.15,"c":0.75,"d":0.04,"e":0.56,"f":0.26},
{"i":375,"a":0.21,"b":0.07,"c":0.42,"d":0.17,"e":0.76,"f":0.12},
{"i":377,"a":0.16,"b":0.19,"c":0.60,"d":0.23,"e":1.13,"f":0.21},
{"i":379,"a":0.33,"b":0.11,"c":0.28,"d":0.10,"e":0.61,"f":0.16},
{"i":381,"a":0.24,"b":0.02,"c":0.49,"d":0.19,"e":0.83,"f":0.29},
{"i":383,"a":0.14,"b":0.14,"c":0.64,"d":0.14,"e":0.47,"f":0.20},
{"i":385,"a":0.31,"b":0.17,"c":0.36,"d":0.27,"e":0.91,"f":0.13},
{"i":387,"a":0.27,"b":0.08,"c":0.55,"d":0.08,"e":0.72,"f":0.24},
{"i":389,"a":0.19,"b":0.12,"c":0.71,"d":0.21,"e":0.58,"f":0.17},
{"i":391,"a":0.42,"b":0.20,"c":0.40,"d":0.15,"e":1.07,"f":0.22},
{"i":393,"a":0.23,"b":0.06,"c":0.26,"d":0.25,"e":0.66,"f":0.11},
{"i":395,"a":0.10,"b":0.13,"c":0.58,"d":0.06,"e":0.81,"f":0.25},
{"i":397,"a":0.30,"b":0.09,"c":0.47,"d":0.18,"e":0.53,"f":0.19},
{"i":399,"a":0.20,"b":0.16,"c":0.68,"d":0.12,"e":0.94,"f":0.15},
{"i":401,"a":0.37,"b":0.04,"c":0.33,"d":0.22,"e":0.70,"f":0.27},
{"i":403,"a":0.26,"b":0.14,"c":0.52,"d":0.16,"e":0.45,"f":0.21},
{"i":405,"a":0.15,"b":0.10,"c":0.62,"d":0.28,"e":1.01,"f":0.09},
{"i":407,"a":0.32,"b":0.18,"c":0.37,"d":0.09,"e":0.77,"f":0.23},
{"i":409,"a":0.22,"b":0.07,"c":0.45,"d":0.19,"e":0.60,"f":0.18},
{"i":411,"a":0.17,"b":0.12,"c":0.74,"d":0.13,"e":0.88,"f":0.26},
{"i":413,"a":0.34,"b":0.15,"c":0.30,"d":0.24,"e":0.50,"f":0.14},
{"i":415,"a":0.28,"b":0.03,"c":0.56,"d":0.05,"e":1.18,"f":0.20},
{"i":417,"a":0.13,"b":0.11,"c":0.42,"d":0.17,"e":0.73,"f":0.24},
{"i":419,"a":0.39,"b":0.19,"c":0.66,"d":0.21,"e":0.62,"f":0.16},
{"i":421,"a":0.24,"b":0.08,"c":0.24,"d":0.11,"e":0.86,"f":0.29},
{"i":423,"a":0.18,"b":0.13,"c":0.59,"d":0.26,"e":0.55,"f":0.12},
{"i":425,"a":0.30,"b":0.05,"c":0.48,"d":0.08,"e":0.99,"f":0.22},
{"i":427,"a":0.21,"b":0.16,"c":0.71,"d":0.15,"e":0.68,"f":0.17},
{"i":429,"a":0.44,"b":0.10,"c":0.35,"d":0.20,"e":0.42,"f":0.25},
{"i":431,"a":0.15,"b":0.20,"c":0.54,"d":0.13,"e":0.84,"f":0.13},
{"i":433,"a":0.27,"b":0.06,"c":0.63,"d":0.23,"e":1.12,"f":0.21},
{"i":435,"a":0.33,"b":0.12,"c":0.39,"d":0.07,"e":0.64,"f":0.19},
{"i":437,"a":0.19,"b":0.17,"c":0.27,"d":0.18,"e":0.79,"f":0.27},
{"i":439,"a":0.25,"b":0.09,"c":0.60,"d":0.25,"e":0.51,"f":0.11},
{"i":441,"a":0.12,"b":0.14,"c":0.46,"d":0.12,"e":0.95,"f":0.23},
{"i":443,"a":0.35,"b":0.02,"c":0.72,"d":0.19,"e":0.71,"f":0.18},
{"i":445,"a":0.23,"b":0.13,"c":0.32,"d":0.04,"e":0.58,"f":0.24},
{"i":447,"a":0.29,"b":0.18,"c":0.57,"d":0.16,"e":1.04,"f":0.15},
{"i":449,"a":0.17,"b":0.07,"c":0.44,"d":0.22,"e":0.76,"f":0.28},
{"i":451,"a":0.40,"b":0.11,"c":0.67,"d":0.10,"e":0.47,"f":0.20},
{"i":453,"a":0.26,"b":0.15,"c":0.28,"d":0.27,"e":0.89,"f":0.12},
{"i":455,"a":0.14,"b":0.04,"c":0.53,"d":0.14,"e":0.63,"f":0.22},
{"i":457,"a":0.31,"b":0.19,"c":0.61,"d":0.09,"e":1.08,"f":0.17},
{"i":459,"a":0.22,"b":0.10,"c":0.38,"d":0.20,"e":0.56,"f":0.26},
{"i":461,"a":0.36,"b":0.13,"c":0.70,"d":0.15,"e":0.81,"f":0.14},
{"i":463,"a":0.18,"b":0.06,"c":0.49,"d":0.24,"e":0.66,"f":0.21},
{"i":465,"a":0.28,"b":0.16,"c":0.25,"d":0.06,"e":0.93,"f":0.19},
{"i":467,"a":0.11,"b":0.11,"c":0.64,"d":0.18,"e":0.52,"f":0.25},
{"i":469,"a":0.33,"b":0.08,"c":0.42,"d":0.13,"e":0.75,"f":0.10},
{"i":471,"a":0.24,"b":0.17,"c":0.58,"d":0.22,"e":1.14,"f":0.23},
{"i":473,"a":0.20,"b":0.03,"c":0.34,"d":0.11,"e":0.60,"f":0.16},
{"i":475,"a":0.38,"b":0.14,"c":0.69,"d":0.26,"e":0.87,"f":0.27},
{"i":477,"a":0.27,"b":0.12,"c":0.47,"d":0.08,"e":0.48,"f":0.18},
{"i":479,"a":0.16,"b":0.20,"c":0.31,"d":0.17,"e":0.78,"f":0.22},
{"i":481,"a":0.30,"b":0.05,"c":0.62,"d":0.21,"e":1.02,"f":0.13},
{"i":483,"a":0.21,"b":0.15,"c":0.51,"d":0.14,"e":0.65,"f":0.24},
{"i":485,"a":0.35,"b":0.09,"c":0.37,"d":0.25,"e":0.54,"f":0.19},
{"i":487,"a":0.13,"b":0.13,"c":0.73,"d":0.07,"e":0.91,"f":0.28},
{"i":489,"a":0.26,"b":0.18,"c":0.44,"d":0.19,"e":0.72,"f":0.15},
{"i":491,"a":0.32,"b":0.07,"c":0.56,"d":0.12,"e":0.46,"f":0.21},
{"i":493,"a":0.19,"b":0.11,"c":0.29,"d":0.23,"e":0.97,"f":0.17},
{"i":495,"a":0.28,"b":0.16,"c":0.65,"d":0.16,"e":0.69,"f":0.25},
{"i":497,"a":0.37,"b":0.10,"c":0.52,"d":0.10,"e":1.22,"f":0.14},
{"i":499,"a":0.23,"b":0.14,"c":0.40,"d":0.20,"e":0.76,"f":0.20}
]},
"config":{
"view":{"stroke":"#555","strokeWidth":1.2},
"axis":{"labelFont":"DejaVu Sans","labelFontSize":10,"labelColor":"#333","titleFont":"DejaVu Sans","titleFontSize":10,"titleFontWeight":"normal","titleColor":"#333","tickColor":"#333","tickSize":4,"grid":false,"domain":false},
"axisX":{"labels":false,"ticks":false,"titlePadding":3},
"axisY":{"titlePadding":6,"labelPadding":2},
"title":{"font":"Lato","fontSize":28,"fontWeight":"bold","color":"#000"}
},
"columns":2,
"spacing":{"row":15,"column":36},
"concat":[
{"width":377,"height":280,
 "title":{"text":"a)","orient":"left","anchor":"end","angle":0,"align":"left","baseline":"top","dy":18,"offset":32},
 "layer":[
 {"mark":{"type":"point","shape":"circle","filled":false,"color":"#000","strokeWidth":1.2,"size":56,"opacity":1,"clip":true},
  "encoding":{"x":{"field":"i","type":"quantitative","scale":{"domain":[-25,523],"nice":false,"zero":false},"axis":{"title":"Test Samples"}},
   "y":{"field":"a","type":"quantitative","scale":{"domain":[-0.06,1.355],"nice":false,"zero":false},"axis":{"title":"MAE","values":[0,0.2,0.4,0.6,0.8,1,1.2],"format":".1f"}}}},
 {"data":{"values":[{"mean":0.28}]},"mark":{"type":"rule","color":"#e3161c","strokeWidth":1.6},"encoding":{"y":{"field":"mean","type":"quantitative"}}},
 {"data":{"values":[{"label":"LR-Fine"}]},"mark":{"type":"text","font":"Lato","fontSize":27,"align":"right","baseline":"alphabetic","color":"#21a35a"},
  "encoding":{"x":{"datum":511},"y":{"datum":1.17},"text":{"field":"label"}}}
 ]},
{"width":382,"height":280,
 "layer":[
 {"mark":{"type":"point","shape":"circle","filled":false,"color":"#000","strokeWidth":1.2,"size":56,"opacity":1,"clip":true},
  "encoding":{"x":{"field":"i","type":"quantitative","scale":{"domain":[-25,523],"nice":false,"zero":false},"axis":{"title":"Test Samples"}},
   "y":{"field":"b","type":"quantitative","scale":{"domain":[0,1.2],"nice":false,"zero":false},"axis":{"title":"MAE","values":[0,0.2,0.4,0.6,0.8,1,1.2],"format":".1f"}}}},
 {"data":{"values":[{"mean":0.113}]},"mark":{"type":"rule","color":"#e3161c","strokeWidth":1.6},"encoding":{"y":{"field":"mean","type":"quantitative"}}},
 {"data":{"values":[{"label":"Reconstruction"}]},"mark":{"type":"text","font":"Lato","fontSize":28,"align":"right","baseline":"alphabetic","color":"#a9a9a9"},
  "encoding":{"x":{"datum":506},"y":{"datum":1.034},"text":{"field":"label"}}}
 ]},
{"width":377,"height":283,
 "title":{"text":"b)","orient":"left","anchor":"end","angle":0,"align":"left","baseline":"top","dy":18,"offset":32},
 "layer":[
 {"mark":{"type":"point","shape":"circle","filled":false,"color":"#000","strokeWidth":1.2,"size":56,"opacity":1,"clip":true},
  "encoding":{"x":{"field":"i","type":"quantitative","scale":{"domain":[-25,523],"nice":false,"zero":false},"axis":{"title":"Test Samples"}},
   "y":{"field":"c","type":"quantitative","scale":{"domain":[-0.057,2.125],"nice":false,"zero":false},"axis":{"title":"MAE","values":[0,0.25,0.5,0.75,1,1.25,1.5,1.75,2],"format":".2f"}}}},
 {"data":{"values":[{"mean":0.479}]},"mark":{"type":"rule","color":"#e3161c","strokeWidth":1.6},"encoding":{"y":{"field":"mean","type":"quantitative"}}},
 {"data":{"values":[{"label":"LR-Medium"}]},"mark":{"type":"text","font":"Lato","fontSize":27,"align":"right","baseline":"alphabetic","color":"#d5612e"},
  "encoding":{"x":{"datum":511},"y":{"datum":1.825},"text":{"field":"label"}}}
 ]},
{"width":382,"height":283,
 "layer":[
 {"mark":{"type":"point","shape":"circle","filled":false,"color":"#000","strokeWidth":1.2,"size":56,"opacity":1,"clip":true},
  "encoding":{"x":{"field":"i","type":"quantitative","scale":{"domain":[-25,523],"nice":false,"zero":false},"axis":{"title":"Test Samples"}},
   "y":{"field":"d","type":"quantitative","scale":{"domain":[0,1.2],"nice":false,"zero":false},"axis":{"title":"MAE","values":[0,0.2,0.4,0.6,0.8,1,1.2],"format":".1f"}}}},
 {"data":{"values":[{"mean":0.137}]},"mark":{"type":"rule","color":"#e3161c","strokeWidth":1.6},"encoding":{"y":{"field":"mean","type":"quantitative"}}},
 {"data":{"values":[{"label":"Reconstruction"}]},"mark":{"type":"text","font":"Lato","fontSize":28,"align":"right","baseline":"alphabetic","color":"#a9a9a9"},
  "encoding":{"x":{"datum":510},"y":{"datum":1.048},"text":{"field":"label"}}}
 ]},
{"width":377,"height":283,
 "title":{"text":"c)","orient":"left","anchor":"end","angle":0,"align":"left","baseline":"top","dy":18,"offset":32},
 "layer":[
 {"mark":{"type":"point","shape":"circle","filled":false,"color":"#000","strokeWidth":1.2,"size":56,"opacity":1,"clip":true},
  "encoding":{"x":{"field":"i","type":"quantitative","scale":{"domain":[-25,523],"nice":false,"zero":false},"axis":{"title":"Test Samples"}},
   "y":{"field":"e","type":"quantitative","scale":{"domain":[-0.05,2.396],"nice":false,"zero":false},"axis":{"title":"MAE","values":[0,0.5,1,1.5,2],"format":".1f"}}}},
 {"data":{"values":[{"mean":0.722}]},"mark":{"type":"rule","color":"#e3161c","strokeWidth":1.6},"encoding":{"y":{"field":"mean","type":"quantitative"}}},
 {"data":{"values":[{"label":"LR-Coarse"}]},"mark":{"type":"text","font":"Lato","fontSize":27,"align":"right","baseline":"alphabetic","color":"#2571b5"},
  "encoding":{"x":{"datum":511},"y":{"datum":2.06},"text":{"field":"label"}}}
 ]},
{"width":382,"height":283,
 "layer":[
 {"mark":{"type":"point","shape":"circle","filled":false,"color":"#000","strokeWidth":1.2,"size":56,"opacity":1,"clip":true},
  "encoding":{"x":{"field":"i","type":"quantitative","scale":{"domain":[-25,523],"nice":false,"zero":false},"axis":{"title":"Test Samples"}},
   "y":{"field":"f","type":"quantitative","scale":{"domain":[0,1.2],"nice":false,"zero":false},"axis":{"title":"MAE","values":[0,0.2,0.4,0.6,0.8,1,1.2],"format":".1f"}}}},
 {"data":{"values":[{"mean":0.173}]},"mark":{"type":"rule","color":"#e3161c","strokeWidth":1.6},"encoding":{"y":{"field":"mean","type":"quantitative"}}},
 {"data":{"values":[{"label":"Reconstruction"}]},"mark":{"type":"text","font":"Lato","fontSize":28,"align":"right","baseline":"alphabetic","color":"#a9a9a9"},
  "encoding":{"x":{"datum":507},"y":{"datum":1.036},"text":{"field":"label"}}}
 ]}
]
}
